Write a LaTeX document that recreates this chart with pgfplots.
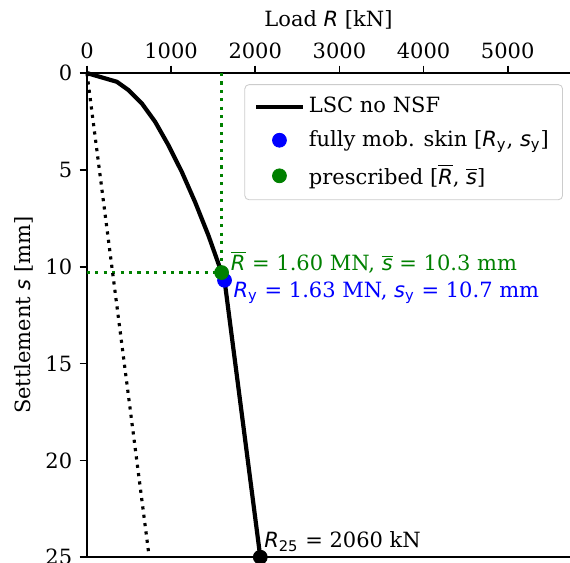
\documentclass[border=0pt]{standalone}
\usepackage{pgfplots}
\pgfplotsset{compat=1.18}
\usepackage{fontspec}
\setmainfont{DejaVu Serif}
\newfontfamily\dvs{DejaVu Sans}
\newcommand{\mi}[1]{{\dvs\itshape #1}}
\newcommand{\sub}[1]{\textsubscript{\dvs #1}}
\definecolor{mgreen}{RGB}{0,128,0}
\pgfplotsset{
  linelegend/.style={legend image code/.code={\draw[##1] (0pt,0pt) -- (22pt,0pt);}},
  dotlegend/.style={legend image code/.code={\draw[##1] plot coordinates {(11pt,0pt)};}},
}

\begin{document}
\begin{tikzpicture}
\useasboundingbox (-41.4pt,-2.4pt) rectangle (230pt,265.3pt);
\begin{axis}[
  at={(0,0)}, anchor=south west,
  scale only axis,
  width=230pt, height=230.5pt,
  xmin=0, xmax=5740,
  ymin=0, ymax=25,
  y dir=reverse,
  axis x line=box, axis y line=left,
  axis line style={-, line width=0.8pt},
  xtick pos=right, xticklabel pos=right,
  xtick={0,1000,...,5000},
  ytick={0,5,...,25},
  tick align=outside,
  major tick length=3.5pt,
  tick style={line width=0.8pt, black},
  /pgf/number format/assume math mode=true,
  /pgf/number format/set thousands separator={},
  xlabel={Load \mi{R} [kN]},
  ylabel={Settlement \mi{s} [mm]},
  xlabel style={at={(axis description cs:0.5,1.11)}, anchor=center},
  ylabel style={at={(axis description cs:-0.1304,0.5)}, anchor=center},
  clip=false,
  legend cell align=left,
  legend style={at={(0.9855,0.977)}, anchor=north east,
    draw=black!20, rounded corners=2pt, fill=white,
    row sep=3pt, inner xsep=4.5pt, inner ysep=4pt},
]
% load-settlement curve
\addplot[black, line width=2pt, linelegend] coordinates {
  (0,0) (356,0.45) (494,0.88) (653,1.57) (811,2.52) (969,3.73)
  (1128,5.11) (1286,6.67) (1444,8.39) (1600,10.3) (1635,10.7) (2060,25)};
\addlegendentry{LSC no NSF}
\addplot[only marks, mark=*, mark size=3.3pt, blue, mark options={draw=blue, fill=blue}, dotlegend]
  coordinates {(1635,10.7)};
\addlegendentry{fully mob. skin [\mi{R}\sub{y}, \mi{s}\sub{y}]}
\addplot[only marks, mark=*, mark size=3.3pt, mgreen, mark options={draw=mgreen, fill=mgreen}, dotlegend]
  coordinates {(1600,10.3)};
\addlegendentry{prescribed [$\overline{\hbox{\mi{R}}}$, $\overline{\hbox{\mi{s}}}$]}
% helper lines
\addplot[mgreen, line width=1.5pt, dash pattern=on 1.5pt off 2.5pt, forget plot] coordinates {(1600,0) (1600,10.3)};
\addplot[mgreen, line width=1.5pt, dash pattern=on 1.5pt off 2.5pt, forget plot] coordinates {(0,10.3) (1600,10.3)};
\addplot[black, line width=1.5pt, dash pattern=on 1.5pt off 2.5pt, forget plot] coordinates {(0,0) (740,25)};
\addplot[only marks, mark=*, mark size=3.3pt, black, forget plot] coordinates {(2060,25)};
% annotations
\node[anchor=west, text=mgreen, inner sep=0pt] at (axis cs:1706,9.78)
  {$\overline{\hbox{\mi{R}}}$ = 1.60 MN, $\overline{\hbox{\mi{s}}}$ = 10.3 mm};
\node[anchor=west, text=blue, inner sep=0pt] at (axis cs:1738,11.33)
  {\mi{R}\sub{y} = 1.63 MN, \mi{s}\sub{y} = 10.7 mm};
\node[anchor=west, inner sep=0pt] at (axis cs:2102,24.2)
  {\mi{R}\sub{25} = 2060 kN};
\end{axis}
\end{tikzpicture}
\end{document}
